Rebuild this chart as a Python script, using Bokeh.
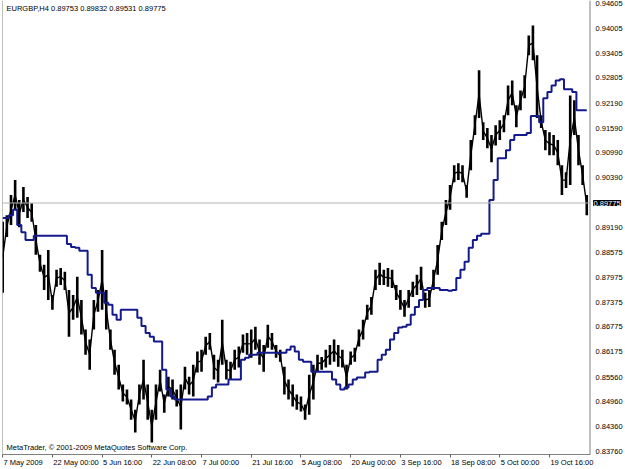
from bokeh.plotting import figure
from bokeh.models import Range1d, FixedTicker, PrintfTickFormatter, Span, Label, ColumnDataSource
from bokeh.embed import file_html
from bokeh.resources import INLINE

# ---- data (EURGBP H4; one sample per ~4 px) ----
HIGH = [
    0.8932, 0.8948, 0.8997, 0.9033, 0.8985, 0.9016, 0.8992, 0.8977, 0.8924, 0.8852, 0.8828, 0.8864,
    0.8755, 0.8816, 0.8820, 0.8811, 0.8767, 0.8755, 0.8799, 0.8743, 0.8671, 0.8647, 0.8743, 0.8767,
    0.8864, 0.8767, 0.8671, 0.8622, 0.8586, 0.8538, 0.8526, 0.8502, 0.8477, 0.8538, 0.8598, 0.8538,
    0.8477, 0.8538, 0.8574, 0.8514, 0.8557, 0.8550, 0.8526, 0.8538, 0.8581, 0.8557, 0.8586, 0.8618,
    0.8622, 0.8654, 0.8663, 0.8610, 0.8598, 0.8695, 0.8598, 0.8593, 0.8622, 0.8630, 0.8659, 0.8663,
    0.8671, 0.8678, 0.8647, 0.8634, 0.8683, 0.8663, 0.8634, 0.8622, 0.8581, 0.8550, 0.8538, 0.8514,
    0.8509, 0.8490, 0.8562, 0.8586, 0.8610, 0.8605, 0.8622, 0.8634, 0.8647, 0.8634, 0.8622, 0.8586,
    0.8618, 0.8627, 0.8671, 0.8695, 0.8731, 0.8750, 0.8816, 0.8833, 0.8816, 0.8820, 0.8816, 0.8779,
    0.8767, 0.8743, 0.8767, 0.8787, 0.8804, 0.8823, 0.8760, 0.8767, 0.8816, 0.8876, 0.8932, 0.8985,
    0.9021, 0.9069, 0.9074, 0.9069, 0.9021, 0.9130, 0.9190, 0.9299, 0.9173, 0.9159, 0.9142, 0.9166,
    0.9178, 0.9190, 0.9262, 0.9274, 0.9214, 0.9250, 0.9287, 0.9383, 0.9407, 0.9335, 0.9190, 0.9154,
    0.9149, 0.9142, 0.9130, 0.9069, 0.9052, 0.9238, 0.9226, 0.9142, 0.9069, 0.8997,
]
LOW = [
    0.8760, 0.8895, 0.8924, 0.8961, 0.8919, 0.8956, 0.8941, 0.8932, 0.8852, 0.8811, 0.8767, 0.8743,
    0.8719, 0.8775, 0.8779, 0.8767, 0.8654, 0.8695, 0.8700, 0.8659, 0.8610, 0.8574, 0.8671, 0.8714,
    0.8719, 0.8671, 0.8622, 0.8562, 0.8526, 0.8497, 0.8490, 0.8453, 0.8422, 0.8490, 0.8502, 0.8453,
    0.8398, 0.8453, 0.8521, 0.8470, 0.8509, 0.8502, 0.8485, 0.8429, 0.8526, 0.8514, 0.8509, 0.8567,
    0.8569, 0.8610, 0.8622, 0.8550, 0.8543, 0.8586, 0.8550, 0.8550, 0.8574, 0.8579, 0.8615, 0.8610,
    0.8603, 0.8622, 0.8586, 0.8569, 0.8627, 0.8622, 0.8603, 0.8593, 0.8514, 0.8502, 0.8485, 0.8477,
    0.8473, 0.8453, 0.8465, 0.8502, 0.8569, 0.8574, 0.8579, 0.8586, 0.8593, 0.8581, 0.8579, 0.8526,
    0.8586, 0.8593, 0.8630, 0.8647, 0.8695, 0.8707, 0.8767, 0.8779, 0.8779, 0.8775, 0.8772, 0.8743,
    0.8719, 0.8702, 0.8724, 0.8750, 0.8755, 0.8767, 0.8724, 0.8726, 0.8767, 0.8804, 0.8888, 0.8924,
    0.8961, 0.9028, 0.9033, 0.9028, 0.8990, 0.9057, 0.9142, 0.9183, 0.9130, 0.9110, 0.9076, 0.9117,
    0.9130, 0.9149, 0.9190, 0.9214, 0.9161, 0.9202, 0.9231, 0.9335, 0.9323, 0.9183, 0.9159, 0.9105,
    0.9093, 0.9093, 0.9069, 0.8997, 0.9014, 0.9021, 0.9142, 0.9069, 0.9021, 0.8948,
]
LEVEL = [
    0.8941, 0.8941, 0.8948, 0.8961, 0.8924, 0.8907, 0.8888, 0.8888, 0.8898, 0.8898, 0.8898, 0.8898,
    0.8898, 0.8898, 0.8898, 0.8898, 0.8878, 0.8871, 0.8869, 0.8862, 0.8862, 0.8804, 0.8772, 0.8760,
    0.8760, 0.8736, 0.8731, 0.8707, 0.8695, 0.8719, 0.8719, 0.8719, 0.8719, 0.8700, 0.8680, 0.8663,
    0.8654, 0.8642, 0.8642, 0.8574, 0.8526, 0.8509, 0.8502, 0.8502, 0.8502, 0.8502, 0.8502, 0.8502,
    0.8502, 0.8502, 0.8509, 0.8531, 0.8538, 0.8538, 0.8538, 0.8550, 0.8550, 0.8550, 0.8598, 0.8603,
    0.8610, 0.8610, 0.8615, 0.8615, 0.8615, 0.8615, 0.8615, 0.8615, 0.8615, 0.8622, 0.8630, 0.8618,
    0.8598, 0.8593, 0.8593, 0.8569, 0.8569, 0.8569, 0.8569, 0.8569, 0.8550, 0.8538, 0.8526, 0.8531,
    0.8538, 0.8550, 0.8555, 0.8555, 0.8567, 0.8569, 0.8569, 0.8598, 0.8610, 0.8622, 0.8647, 0.8663,
    0.8676, 0.8678, 0.8683, 0.8707, 0.8726, 0.8743, 0.8767, 0.8772, 0.8772, 0.8772, 0.8767, 0.8767,
    0.8765, 0.8767, 0.8796, 0.8816, 0.8835, 0.8869, 0.8888, 0.8898, 0.8903, 0.8903, 0.8985, 0.9033,
    0.9086, 0.9086, 0.9105, 0.9130, 0.9142, 0.9142, 0.9142, 0.9147, 0.9188, 0.9188, 0.9173, 0.9231,
    0.9246, 0.9262, 0.9274, 0.9277, 0.9253, 0.9253, 0.9246, 0.9202, 0.9202, 0.9202,
]
IDX = list(range(len(HIGH)))

TICK_IDX = [0, 12, 24, 36, 48, 60, 72, 84, 96, 108, 120, 132]
TICK_LABELS = ["7 May 2009", "22 May 00:00", "5 Jun 16:00", "22 Jun 08:00", "7 Jul 00:00",
               "21 Jul 16:00", "5 Aug 08:00", "20 Aug 00:00", "3 Sep 16:00", "18 Sep 08:00",
               "5 Oct 00:00", "19 Oct 16:00"]
Y_TICKS = [0.94605, 0.94005, 0.93405, 0.92805, 0.92190, 0.91590, 0.90990, 0.90390,
           0.89190, 0.88575, 0.87975, 0.87375, 0.86775, 0.86175, 0.85560, 0.84960,
           0.84360, 0.83760]
SYMBOL = "EURGBP,H4"
LAST_OHLC = [0.89753, 0.89832, 0.89531, 0.89775]
CURRENT = LAST_OHLC[3]

# ---- layout ----
FONT = "Liberation Sans"
FS_PX = 7.5
FS = "%.1fpx" % FS_PX
XR = (-0.05, 141.9)
YR = (0.83687, 0.94677)
FRAME_W = 591.0
PX_PER_UNIT = FRAME_W / (XR[1] - XR[0])

# approximate Arial advance widths (em) to left-align the date labels at their ticks
_W = {c: 0.556 for c in "0123456789aunegpdbqh"}
_W.update({" ": 0.278, ":": 0.278, "M": 0.833, "y": 0.5, "J": 0.5, "l": 0.222, "A": 0.667,
           "S": 0.667, "O": 0.778, "c": 0.5, "t": 0.278, "r": 0.333, ".": 0.278})


def text_px(s):
    return sum(_W.get(ch, 0.556) for ch in s) * FS_PX


LABEL_POS = [round(t + (text_px(s) / 2 + 1) / PX_PER_UNIT, 3) for t, s in zip(TICK_IDX, TICK_LABELS)]

src = ColumnDataSource(dict(x=IDX, hi=HIGH, lo=LOW,
                            mid=[(h + l) / 2 for h, l in zip(HIGH, LOW)], lvl=LEVEL))

p = figure(width=625, height=469, output_backend="svg", toolbar_location=None,
           x_range=Range1d(*XR), y_range=Range1d(*YR), y_axis_location="right",
           min_border_left=2, min_border_right=30, min_border_top=0, min_border_bottom=14)
p.outline_line_color = None
p.background_fill_color = "white"
p.border_fill_color = "white"
p.xgrid.visible = False
p.ygrid.visible = False

# current price line
p.add_layout(Span(location=CURRENT, dimension="width", line_color="#b4b4b4", line_width=1))
# left and right frame borders
p.add_layout(Span(location=XR[0], dimension="height", line_color="#808080", line_width=1))
p.add_layout(Span(location=XR[1], dimension="height", line_color="#808080", line_width=2))

# price bars
p.segment(x0="x", y0="lo", x1="x", y1="hi", source=src, line_color="black", line_width=2.6)
p.line(x="x", y="mid", source=src, line_color="black", line_width=1.4)

# blue level line
p.step(x="x", y="lvl", source=src, mode="center", line_color="#141a8c", line_width=2)

# bottom axis: tick marks at the dates (minor ticks), labels left-aligned right of them
xa = p.xaxis[0]
xa.ticker = FixedTicker(ticks=LABEL_POS, minor_ticks=TICK_IDX)
xa.major_label_overrides = {pos: s for pos, s in zip(LABEL_POS, TICK_LABELS)}
xa.major_tick_line_color = None
xa.major_tick_in = 0
xa.major_tick_out = 3
xa.minor_tick_in = 0
xa.minor_tick_out = 3
xa.minor_tick_line_color = "#606060"
xa.major_label_standoff = 0
xa.axis_line_color = "#808080"
xa.major_label_text_font = FONT
xa.major_label_text_font_size = FS
xa.major_label_text_color = "black"

# current-price box: a side-panel label right next to the frame (not clipped)
box = Label(x=XR[1], y=CURRENT, x_offset=3, text_baseline="middle",
            text_align="left", text="%.5f" % CURRENT, text_font=FONT, text_font_size=FS,
            text_color="white", background_fill_color="black", border_line_color="black")

# price scale sits outside that panel; its labels are pulled back over it
box_w = text_px("%.5f" % CURRENT)
ya = p.yaxis[0]
ya.ticker = FixedTicker(ticks=Y_TICKS)
ya.formatter = PrintfTickFormatter(format="%.5f")
ya.minor_tick_line_color = None
ya.major_tick_in = 0
ya.major_tick_out = 0
ya.major_label_standoff = -int(round(box_w)) + 5
ya.axis_line_color = None
ya.major_tick_line_color = None
ya.major_label_text_font = FONT
ya.major_label_text_font_size = FS
ya.major_label_text_color = "black"

p.right = [box, ya]

# texts
p.add_layout(Label(x=XR[0], y=YR[1], x_offset=4, y_offset=-3, text_baseline="top",
                   text=SYMBOL + "  " + " ".join("%.5f" % v for v in LAST_OHLC),
                   text_font=FONT, text_font_size=FS, text_color="black"))
p.add_layout(Label(x=XR[0], y=YR[0], x_offset=4, y_offset=3, text_baseline="bottom",
                   text="MetaTrader, \u00a9 2001-2009 MetaQuotes Software Corp.",
                   text_font=FONT, text_font_size=FS, text_color="black"))

open("out.html", "w").write(file_html(p, INLINE))
